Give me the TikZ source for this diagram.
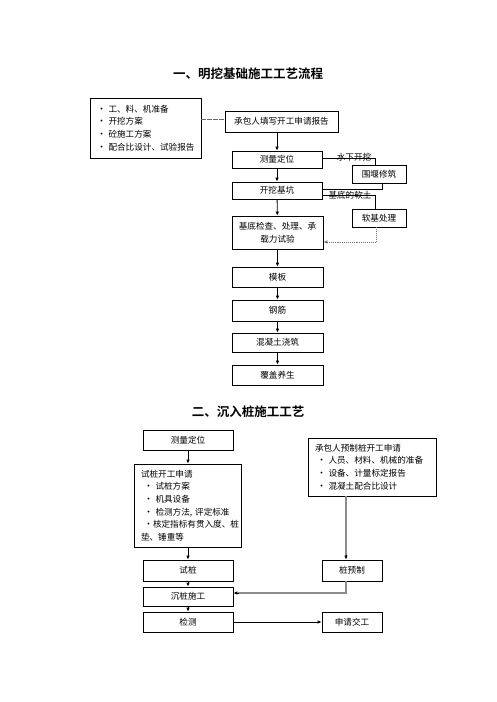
\documentclass[tikz,border=0pt]{standalone}
\usepackage{fontspec}
\setmainfont{Noto Sans CJK SC}[BoldFont={Noto Sans CJK SC Bold}]
\usetikzlibrary{arrows.meta}
\newcommand{\bulc}{\raisebox{0pt}{\fontsize{9}{9}\selectfont •}}
\newcommand{\bul}{\bulc\hspace{2.5pt}}
\tikzset{
  box/.style={draw, line width=0.8pt, inner sep=0pt, font=\fontsize{8.6}{12.6}\selectfont, align=center},
  listbox/.style={box, align=left, inner xsep=7pt},
  arr/.style={line width=0.8pt, -{Latex[length=4pt,width=3.6pt]}},
  plain/.style={line width=0.6pt},
  lbl/.style={font=\fontsize{8.6}{10}\selectfont, inner sep=0pt},
  ttl/.style={font=\fontsize{12.5}{14}\selectfont\bfseries, inner sep=0pt},
  grayline/.style={line width=2pt, draw=black!45},
}
\begin{document}
\begin{tikzpicture}[x=1pt,y=-1pt]
\useasboundingbox (0,0) rectangle (496,702);
\fill[white] (0,0) rectangle (496,702);

% ---------- section 1 ----------
\node[ttl] (t1) at (248,74) {一、明挖基础施工工艺流程};

\node[listbox, minimum width=111pt, minimum height=60pt, text width=97pt] (mat) at (145.5,128)
  {\mbox{\bul 工、料、机准备}\\ \mbox{\bul 开挖方案}\\ \mbox{\bul 砼施工方案}\\ \mbox{\bul 配合比设计、试验报告}};
\node[box, minimum width=113pt, minimum height=21pt] (apply) at (281.5,121.5) {承包人填写开工申请报告};
\node[box, minimum width=90pt, minimum height=17pt] (survey) at (277,159.5) {测量定位};
\node[box, minimum width=90pt, minimum height=17pt] (excav) at (277,190.5) {开挖基坑};
\node[box, minimum width=91pt, minimum height=33pt] (check) at (277.5,232.5) {基底检查、处理、承\\载力试验};
\node[box, minimum width=54pt, minimum height=18pt] (weir) at (379,174) {围堰修筑};
\node[box, minimum width=54pt, minimum height=18pt] (soft) at (379,218) {软基处理};
\node[box, minimum width=91pt, minimum height=20pt] (form) at (277.5,277) {模板};
\node[box, minimum width=91pt, minimum height=21pt] (rebar) at (277.5,310.5) {钢筋};
\node[box, minimum width=91pt, minimum height=19pt] (concrete) at (277.5,342.5) {混凝土浇筑};
\node[box, minimum width=91pt, minimum height=20pt] (cover) at (277.5,375) {覆盖养生};

\coordinate (c1) at (375,0);
\coordinate (c2) at (382,0);

\draw[line width=0.7pt, draw=black!60, dash pattern=on 5pt off 1pt] (mat.east |- 0,119) -- (apply.west |- 0,119);
\draw[arr] (survey.north |- apply.south) -- (survey.north);
\draw[arr] (survey) -- (excav);
\draw[arr] (excav) -- (check);
\draw[arr] (check.south -| form.north) -- (form.north);
\draw[arr] (form) -- (rebar);
\draw[arr] (rebar) -- (concrete);
\draw[arr] (concrete) -- (cover);

\draw[plain] ([yshift=1.5pt]survey.east) -- ([yshift=1.5pt]survey.east -| c1) -- (c1 |- weir.north);
\node[lbl] (l1) at (354,157) {水下开挖};
\draw[plain] (weir.south -| c2) -- (c2 |- 0,189) -- (excav.east |- 0,189);
\draw[plain] ([yshift=-4.5pt]excav.east) -- ([yshift=-4.5pt]excav.east -| c1) -- (c1 |- soft.north);
\node[lbl] (l2) at (350,195) {基底的软土};
\draw[line width=0.9pt, draw=black!55, densely dotted, -{Latex[length=4pt,width=3.6pt]}]
  (soft.south -| 376,0) -- (376,242) -- (check.east |- 0,242);

% ---------- section 2 ----------
\node[ttl] (t2) at (248,412) {二、沉入桩施工工艺};

\node[box, minimum width=90pt, minimum height=20pt] (s2survey) at (188,440) {测量定位};
\node[listbox, minimum width=105pt, minimum height=83pt, text width=93pt] (trial) at (187.5,505.5)
  {\mbox{试桩开工申请}\\ \mbox{\hspace{3pt}\bul 试桩方案}\\ \mbox{\hspace{3pt}\bul 机具设备}\\ \mbox{\hspace{3pt}\bul 检测方法, 评定标准}\\ \mbox{\hspace{3pt}\bulc 核定指标有贯入度、桩}\\ \mbox{垫、锤重等}};
\node[listbox, minimum width=128pt, minimum height=58pt, text width=114pt] (contractor) at (372,467)
  {\mbox{承包人预制桩开工申请}\\ \mbox{\hspace{2pt}\bul 人员、材料、机械的准备}\\ \mbox{\hspace{2pt}\bul 设备、计量标定报告}\\ \mbox{\hspace{2pt}\bul 混凝土配合比设计}};
\node[box, minimum width=90pt, minimum height=21pt] (trialpile) at (188,570.5) {试桩};
\node[box, minimum width=90pt, minimum height=19pt] (sink) at (188,596.5) {沉桩施工};
\node[box, minimum width=90pt, minimum height=20pt] (test) at (188,622) {检测};
\node[box, minimum width=60pt, minimum height=21pt] (prefab) at (352,570.5) {桩预制};
\node[box, minimum width=60pt, minimum height=20pt] (handover) at (352,622) {申请交工};

\coordinate (c3) at (346,0);

\draw[arr] (s2survey.south) -- (trial.north -| s2survey.south);
\draw[arr] (trial.south -| trialpile.north) -- (trialpile.north);
\draw[arr] (trialpile) -- (sink);
\draw[arr] (sink) -- (test);
\draw[grayline] (c3 |- contractor.south) -- ([yshift=4pt]c3 |- prefab.north);
\draw[arr] ([yshift=4.5pt]c3 |- prefab.north) -- (c3 |- prefab.north);
\draw[grayline] (c3 |- prefab.south) -- (c3 |- 0,593) -- ([xshift=5pt]sink.east |- 0,593);
\draw[arr] ([xshift=5.5pt]sink.east |- 0,593) -- (sink.east |- 0,593);
\draw[arr] (test) -- (handover);
\end{tikzpicture}
\end{document}
